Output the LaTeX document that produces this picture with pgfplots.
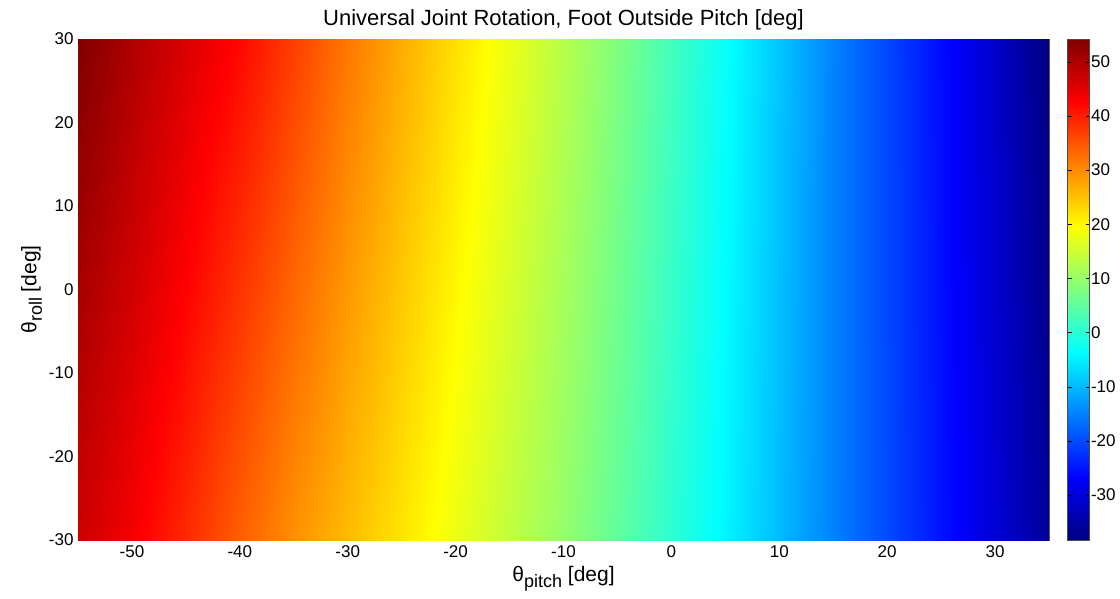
\documentclass[border=0pt]{standalone}
\usepackage{pgfplots}
\pgfplotsset{compat=1.18}
\usepackage{pgfplotstable}
\usepackage{fontspec}
\setmainfont{Liberation Sans}

\pgfplotstableread{
x y c
-55 -30 47.3
-50 -30 43.5
-45 -30 38.9
-40 -30 34.0
-35 -30 29.5
-30 -30 25.6
-25 -30 21.8
-20 -30 17.8
-15 -30 13.8
-10 -30 9.8
-5 -30 5.3
0 -30 0.5
5 -30 -4.4
10 -30 -9.7
15 -30 -15.0
20 -30 -20.0
25 -30 -25.1
30 -30 -30.5
35 -30 -36.0
-55 0 50.7
-50 0 46.8
-45 0 42.5
-40 0 38.0
-35 0 33.3
-30 0 28.7
-25 0 24.4
-20 0 20.1
-15 0 15.8
-10 0 11.4
-5 0 6.7
0 0 1.5
5 0 -3.7
10 0 -9.3
15 0 -14.9
20 0 -20.2
25 0 -25.4
30 0 -31.1
35 0 -37.2
-55 30 54.2
-50 30 50.0
-45 30 46.0
-40 30 42.0
-35 30 37.0
-30 30 31.8
-25 30 27.0
-20 30 22.3
-15 30 17.7
-10 30 12.9
-5 30 8.0
0 30 2.5
5 30 -3.0
10 30 -8.8
15 30 -14.8
20 30 -20.3
25 30 -25.7
30 30 -31.6
35 30 -38.3
}\datatable

\begin{document}
\begin{tikzpicture}
\begin{axis}[
  at={(0pt,0pt)}, anchor=south west,
  scale only axis, width=971pt, height=501pt,
  xmin=-55, xmax=35, ymin=-30, ymax=30,
  xtick={-50,-40,...,30}, ytick={-30,-20,...,30},
  major tick length=0pt,
  tick label style={font=\fontsize{17}{17}\selectfont},
  xticklabel style={yshift=-2pt},
  yticklabel style={xshift=-1pt},
  /pgf/number format/assume math mode=true,
  title={Universal Joint Rotation, Foot Outside Pitch [deg]},
  title style={font=\fontsize{22}{22}\selectfont, yshift=-1pt},
  xlabel={θ\raisebox{-0.5ex}{\fontsize{18}{18}\selectfont pitch} [deg]},
  ylabel={θ\raisebox{-0.5ex}{\fontsize{18}{18}\selectfont roll} [deg]},
  label style={font=\fontsize{21}{21}\selectfont},
  xlabel style={yshift=-2pt},
  axis line style={black!65, line width=0.8pt},
  colormap/jet,
  point meta min=-38.3, point meta max=54.2,
  colorbar,
  colorbar/width=22pt,
  colorbar style={
    at={(parent axis.north east)}, anchor=north west, xshift=10pt,
    scale only axis, width=22pt, height=501pt,
    ytick={-30,-20,...,50},
    ytick pos=both,
    yticklabel pos=right,
    ytick align=inside,
    major tick length=4pt,
    tick style={black},
    tick label style={font=\fontsize{17}{17}\selectfont},
    yticklabel style={xshift=-2pt},
    /pgf/number format/assume math mode=true,
    axis line style={black!70, line width=0.8pt},
  },
]
\addplot[surf, shader=interp, mesh/cols=19, point meta=explicit]
  table[x=x, y=y, meta=c] {\datatable};
\end{axis}
\pgfresetboundingbox
\path[use as bounding box] (-78pt,-58pt) rectangle (1042pt,540pt);
\end{tikzpicture}
\end{document}
